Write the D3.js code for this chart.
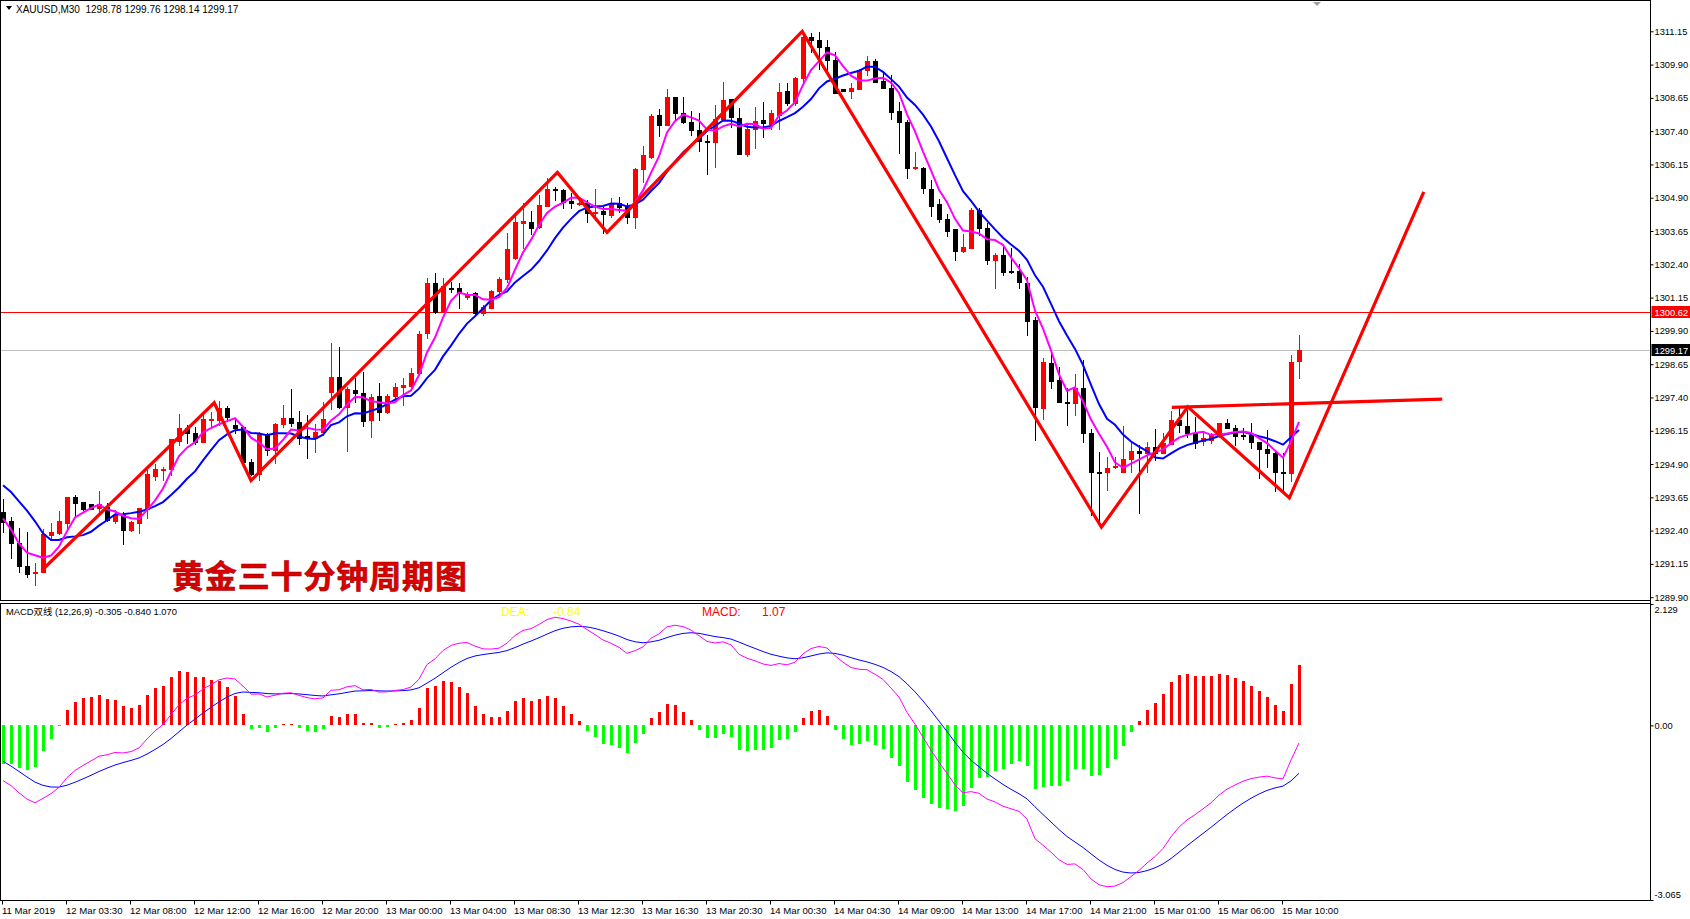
<!DOCTYPE html>
<html><head><meta charset="utf-8">
<script src="https://cdn.jsdelivr.net/npm/d3@7"></script>
<style>
html,body{margin:0;padding:0;background:#fff;overflow:hidden;}
svg{display:block;}
text{font-family:"Liberation Sans",Arial,"Noto Sans CJK SC",sans-serif;}
</style></head><body>
<svg id="c" width="1690" height="919"></svg>
<script>
// ---------- DATA ----------
const opens = [1293.11,1292.76,1291.95,1291.08,1290.81,1290.86,1292.25,1292.30,1292.70,1293.66,
1293.46,1293.39,1293.24,1293.30,1292.77,1292.99,1292.42,1292.70,1293.20,1294.46,
1294.67,1294.71,1295.78,1296.24,1296.08,1295.74,1296.55,1296.55,1296.99,1296.37,
1296.28,1294.98,1294.53,1296.03,1295.43,1296.41,1296.62,1296.47,1295.96,1295.87,
1296.12,1297.62,1298.17,1297.06,1297.68,1297.56,1296.56,1297.46,1296.87,1297.47,
1297.78,1297.83,1298.31,1299.81,1301.69,1300.62,1301.52,1301.50,1301.16,1301.31,
1300.56,1300.77,1301.41,1301.83,1302.62,1303.97,1304.00,1303.81,1304.59,1305.21,
1305.19,1304.78,1304.66,1304.71,1304.31,1304.40,1304.25,1304.69,1304.59,1304.16,
1305.97,1306.44,1308.00,1307.65,1308.67,1308.07,1307.74,1307.46,1307.03,1307.00,
1307.84,1308.59,1307.88,1306.53,1307.50,1307.81,1307.67,1308.00,1308.90,1308.44,
1309.38,1310.92,1310.84,1310.57,1310.07,1309.00,1308.90,1309.00,1309.69,1310.03,
1309.29,1309.03,1308.15,1307.75,1306.00,1306.03,1305.23,1304.66,1304.12,1303.72,
1302.91,1303.02,1304.44,1303.75,1302.58,1302.75,1302.16,1302.16,1301.71,1300.31,
1296.99,1298.70,1298.05,1297.24,1297.18,1297.74,1296.05,1294.61,1294.59,1294.78,
1294.62,1295.08,1295.39,1295.33,1295.53,1295.30,1295.64,1296.55,1296.34,1296.05,
1295.78,1295.80,1295.95,1296.45,1296.24,1295.99,1295.99,1295.72,1295.47,1295.30,
1294.62,1294.58,1298.78];
const highs = [1293.57,1292.92,1292.48,1292.33,1291.17,1292.45,1292.67,1293.14,1293.68,1293.74,
1293.46,1293.39,1293.89,1293.45,1293.17,1293.11,1292.77,1293.26,1294.67,1294.89,
1294.80,1295.84,1296.79,1296.36,1296.28,1296.87,1296.87,1297.27,1297.08,1296.56,
1296.32,1295.08,1296.12,1296.08,1296.43,1297.12,1297.72,1296.89,1296.74,1296.39,
1297.24,1299.44,1299.29,1297.81,1298.12,1298.35,1297.53,1297.93,1297.52,1297.96,
1298.12,1298.52,1299.90,1301.88,1302.06,1301.88,1301.75,1301.71,1301.35,1301.35,
1300.86,1301.42,1301.94,1303.56,1304.25,1304.69,1304.40,1305.00,1305.63,1305.29,
1305.21,1305.06,1304.88,1304.81,1305.23,1304.56,1304.88,1304.94,1304.72,1306.03,
1306.84,1308.03,1308.22,1308.98,1308.70,1308.67,1308.15,1308.09,1307.25,1308.38,
1309.25,1308.62,1308.28,1307.69,1308.29,1308.50,1308.19,1309.19,1309.22,1309.44,
1311.13,1311.07,1311.13,1310.82,1310.38,1309.00,1309.19,1309.72,1310.22,1310.10,
1309.57,1309.51,1308.51,1307.82,1306.63,1306.07,1305.56,1304.84,1304.29,1303.72,
1303.54,1304.50,1304.50,1303.97,1302.84,1303.06,1303.03,1302.41,1301.93,1300.41,
1298.87,1299.05,1298.55,1297.74,1298.30,1298.80,1296.20,1295.37,1295.18,1295.18,
1296.33,1295.74,1295.62,1295.74,1296.20,1296.05,1296.91,1296.99,1296.93,1296.68,
1296.12,1296.05,1296.45,1296.58,1296.36,1296.24,1296.43,1295.74,1296.18,1295.43,
1295.30,1298.99,1299.76];
const lows = [1292.36,1291.36,1290.86,1290.64,1290.36,1290.86,1292.11,1292.27,1292.48,1292.92,
1293.17,1293.20,1293.05,1292.77,1292.70,1291.88,1292.39,1292.30,1292.86,1294.30,
1294.30,1294.49,1295.61,1295.68,1295.65,1295.74,1296.28,1296.36,1296.60,1296.06,
1294.95,1294.49,1294.30,1295.24,1294.93,1296.28,1296.31,1295.65,1295.14,1295.37,
1295.99,1296.96,1297.00,1295.40,1297.24,1296.31,1295.93,1296.56,1296.83,1297.31,
1297.12,1297.81,1298.25,1299.62,1300.56,1300.60,1301.37,1300.75,1301.10,1300.55,
1300.50,1300.75,1301.22,1301.75,1302.60,1303.00,1303.54,1303.77,1304.59,1304.81,
1304.53,1304.53,1304.63,1304.00,1304.06,1303.56,1304.19,1304.38,1303.96,1303.77,
1305.50,1306.38,1307.21,1307.65,1307.81,1307.70,1307.25,1306.66,1305.81,1306.04,
1307.81,1307.56,1306.56,1306.48,1306.78,1307.19,1307.50,1307.50,1308.40,1308.40,
1309.13,1310.38,1309.72,1309.69,1308.84,1308.90,1308.65,1308.98,1309.50,1309.23,
1309.03,1307.84,1306.59,1305.65,1305.97,1305.06,1304.22,1304.00,1303.47,1302.56,
1302.88,1303.02,1303.50,1302.43,1301.50,1302.00,1302.06,1301.52,1299.74,1295.80,
1296.61,1297.74,1297.24,1296.36,1296.74,1295.74,1292.98,1292.74,1293.93,1294.74,
1294.60,1294.62,1293.08,1294.62,1295.05,1295.30,1295.64,1296.12,1295.93,1295.49,
1295.62,1295.70,1295.93,1296.24,1295.62,1295.83,1295.49,1294.36,1294.80,1293.90,
1293.93,1294.26,1298.14];
const closes = [1292.73,1291.95,1291.08,1290.76,1290.86,1292.27,1292.35,1292.76,1293.66,1293.42,
1293.20,1293.20,1293.39,1292.80,1292.99,1292.42,1292.73,1293.26,1294.51,1294.71,
1294.71,1295.83,1296.25,1296.08,1295.74,1296.58,1296.58,1296.99,1296.68,1296.27,
1294.99,1294.53,1296.06,1295.43,1296.41,1296.62,1296.46,1295.89,1295.91,1296.12,
1296.58,1298.17,1297.06,1297.71,1297.56,1296.53,1297.43,1296.87,1297.46,1297.81,
1297.87,1298.31,1299.77,1301.69,1300.62,1301.60,1301.48,1301.31,1301.27,1300.58,
1300.78,1301.40,1301.83,1302.97,1304.00,1304.02,1303.77,1304.63,1305.23,1305.18,
1304.75,1304.69,1304.71,1304.31,1304.38,1304.28,1304.69,1304.56,1304.16,1305.97,
1306.50,1307.97,1307.65,1308.67,1308.07,1307.73,1307.46,1307.04,1307.00,1307.84,
1308.57,1307.92,1306.56,1307.50,1307.79,1307.69,1308.07,1308.88,1308.44,1309.38,
1310.92,1310.84,1310.57,1310.07,1308.84,1308.90,1309.03,1309.69,1310.03,1309.25,
1309.03,1308.13,1307.75,1306.00,1306.04,1305.25,1304.60,1304.12,1303.66,1302.91,
1303.04,1304.44,1303.75,1302.58,1302.75,1302.12,1302.10,1301.75,1300.28,1297.05,
1298.74,1298.03,1297.24,1297.18,1297.74,1296.08,1294.61,1294.57,1294.74,1294.81,
1295.08,1295.39,1295.33,1295.53,1295.33,1295.68,1296.55,1296.37,1296.05,1295.70,
1295.87,1295.99,1296.45,1296.24,1295.97,1295.95,1295.72,1295.48,1295.30,1294.61,
1294.58,1298.75,1299.17];

// moving-average values of the first bars (window not yet full)
const ma5Head  = [1292.86,1292.45,1291.92,1291.57];
const ma10Head = [1294.10,1293.85,1293.50,1293.15,1292.75,1292.30,1292.05,1292.05,1292.15];
// MACD state at the first bar
const ema12Seed = 1293.95, ema26Seed = 1294.92, deaSeed = -0.63;

const priceTicks = [1289.90,1291.15,1292.40,1293.65,1294.90,1296.15,1297.40,1298.65,1299.90,1301.15,
1302.40,1303.65,1304.90,1306.15,1307.40,1308.65,1309.90,1311.15];
const macdTicks = [2.129, 0, -3.065];
const macdTickLabels = ["2.129","0.00","-3.065"];
const timeTickIdx = [0,8,16,24,32,40,48,56,64,72,80,88,96,104,112,120,128,136,144,152,160];
const timeLabels = ["11 Mar 2019","12 Mar 03:30","12 Mar 08:00","12 Mar 12:00","12 Mar 16:00","12 Mar 20:00",
"13 Mar 00:00","13 Mar 04:00","13 Mar 08:30","13 Mar 12:30","13 Mar 16:30","13 Mar 20:30","14 Mar 00:30",
"14 Mar 04:30","14 Mar 09:00","14 Mar 13:00","14 Mar 17:00","14 Mar 21:00","15 Mar 01:00","15 Mar 06:00","15 Mar 10:00"];

// hand-drawn red zigzag (bar index, price)
const zigIdx   = [5, 26.4, 31, 69.3, 75.5, 99.9, 137.3, 148.1, 160.8, 177.6];
const zigPrice = [1290.95, 1297.2, 1294.28, 1305.85, 1303.6, 1311.15, 1292.53, 1297.05, 1293.63, 1305.12];
const neckIdx = [146.1, 179.9];
const neckPrice = [1297.03, 1297.34];
const redLevel = 1300.62, bidLevel = 1299.17;

// ---------- LAYOUT ----------
const svg = d3.select('#c');
const axisX = 1650.5;
const mainTop = 0.5, mainBot = 600.5, macdTop = 603.5, macdBot = 900.5;
const x = d3.scaleLinear().domain([0, 162]).range([3, 1299]);
const y = d3.scaleLinear().domain([1289.90, 1311.15]).range([597.2, 31.3]);
const ym = d3.scaleLinear().domain([-3.065, 2.129]).range([900, 604]);
const axisFont = '"Liberation Sans",Arial,sans-serif';
const axisSize = 9.3;

const defs = svg.append('defs');
defs.append('clipPath').attr('id','cm').append('rect').attr('x',1).attr('y',1).attr('width',1649).attr('height',599);
defs.append('clipPath').attr('id','cd').append('rect').attr('x',1).attr('y',604).attr('width',1649).attr('height',296);

// ---------- indicators ----------
const n = closes.length;
function sma(period, head){
  return d3.range(n).map(i => i < period-1 ? head[i] : d3.mean(closes.slice(i-period+1, i+1)));
}
const ma5 = sma(5, ma5Head), ma10 = sma(10, ma10Head);
const a12 = 2/13, a26 = 2/27, a9 = 2/10;
let e12 = ema12Seed, e26 = ema26Seed, dea = deaSeed;
const difArr = [], deaArr = [];
for (let i=0;i<n;i++){
  if (i>0){ e12 = a12*closes[i] + (1-a12)*e12; e26 = a26*closes[i] + (1-a26)*e26; }
  const d = e12 - e26;
  if (i>0) dea = a9*d + (1-a9)*dea;
  difArr.push(d); deaArr.push(dea);
}
const hist = difArr.map((d,i)=>2*(d-deaArr[i]));

// ---------- main pane ----------
const main = svg.append('g').attr('clip-path','url(#cm)');
main.append('line').attr('x1',0).attr('x2',axisX).attr('y1',Math.round(y(redLevel))+0.5).attr('y2',Math.round(y(redLevel))+0.5)
  .attr('stroke','#ff0000').attr('stroke-width',1);
main.append('line').attr('x1',0).attr('x2',axisX).attr('y1',Math.round(y(bidLevel))+0.5).attr('y2',Math.round(y(bidLevel))+0.5)
  .attr('stroke','#c0c0c0').attr('stroke-width',1);

const cg = main.append('g').attr('shape-rendering','crispEdges');
d3.range(n).forEach(i=>{
  const o=opens[i], h=highs[i], l=lows[i], c=closes[i];
  const col = c >= o ? '#ff0000' : '#000000';
  const cx = Math.round(x(i));
  cg.append('line').attr('x1',cx+0.5).attr('x2',cx+0.5).attr('y1',Math.round(y(h))).attr('y2',Math.round(y(l))+1).attr('stroke',col);
  const yt = Math.round(y(Math.max(o,c))), yb = Math.round(y(Math.min(o,c)));
  cg.append('rect').attr('x',cx-2).attr('width',5).attr('y',yt).attr('height',Math.max(1,yb-yt+1)).attr('fill',col);
});

const lineMain = d3.line().x((d,i)=>x(i)).y(d=>y(d));
main.append('path').attr('d',lineMain(ma10)).attr('fill','none').attr('stroke','#0000ff').attr('stroke-width',2);
main.append('path').attr('d',lineMain(ma5)).attr('fill','none').attr('stroke','#ff00ff').attr('stroke-width',2);

const zigLine = d3.line().x(d=>x(d[0])).y(d=>y(d[1]));
main.append('path').attr('d',zigLine(zigIdx.map((v,i)=>[v,zigPrice[i]]))).attr('fill','none')
  .attr('stroke','#ff0000').attr('stroke-width',3.2).attr('stroke-linejoin','miter');
main.append('path').attr('d',zigLine(neckIdx.map((v,i)=>[v,neckPrice[i]]))).attr('fill','none')
  .attr('stroke','#ff0000').attr('stroke-width',3.2);

// title text
main.append('text').attr('x',172).attr('y',588).attr('font-size',32).attr('font-weight','bold')
  .style('font-family','"Noto Sans CJK SC",sans-serif').attr('fill','#dd0000').attr('stroke','#9a0000').attr('stroke-width',0.6)
  .attr('textLength',295).text('黄金三十分钟周期图');

// header
svg.append('path').attr('d','M6,6 L12,6 L9,10 Z').attr('fill','#000');
svg.append('text').attr('x',16).attr('y',13).attr('font-size',10).attr('fill','#000').style('white-space','pre')
  .text('XAUUSD,M30  1298.78 1299.76 1298.14 1299.17');
svg.append('path').attr('d','M1313,2 L1321,2 L1317,6 Z').attr('fill','#a0a0a0');

// ---------- MACD pane ----------
const md = svg.append('g').attr('clip-path','url(#cd)');
const hg = md.append('g').attr('shape-rendering','crispEdges');
const z0 = Math.round(ym(0));
hist.forEach((v,i)=>{
  const cx = Math.round(x(i));
  const yv = Math.round(ym(v));
  hg.append('rect').attr('x',cx-1).attr('width',3)
    .attr('y',Math.min(yv,z0)).attr('height',Math.max(1,Math.abs(yv-z0)))
    .attr('fill', v>=0 ? '#ff0000' : '#00ff00');
});
const lineM = d3.line().x((d,i)=>x(i)).y(d=>ym(d));
md.append('path').attr('d',lineM(deaArr)).attr('fill','none').attr('stroke','#0000ff').attr('stroke-width',1);
md.append('path').attr('d',lineM(difArr)).attr('fill','none').attr('stroke','#ff00ff').attr('stroke-width',1);

svg.append('text').attr('x',6).attr('y',615).attr('font-size',9.4).attr('fill','#000')
  .style('font-family','"Liberation Sans","Noto Sans CJK SC",sans-serif').text('MACD双线 (12,26,9) -0.305 -0.840 1.070');
svg.append('text').attr('x',501).attr('y',616).attr('font-size',12).attr('fill','#ffff00').text('DEA:');
svg.append('text').attr('x',553).attr('y',616).attr('font-size',12).attr('fill','#ffff00').text('-0.84');
svg.append('text').attr('x',702).attr('y',616).attr('font-size',12).attr('fill','#ff0000').text('MACD:');
svg.append('text').attr('x',762).attr('y',616).attr('font-size',12).attr('fill','#ff0000').text('1.07');

// ---------- frames ----------
const fr = svg.append('g').attr('stroke','#000').attr('shape-rendering','crispEdges').attr('fill','none');
fr.append('rect').attr('x',mainTop).attr('y',mainTop).attr('width',axisX-0.5).attr('height',mainBot-mainTop);
fr.append('rect').attr('x',0.5).attr('y',macdTop).attr('width',axisX-0.5).attr('height',macdBot-macdTop);

// ---------- axes ----------
const ay = svg.append('g').attr('transform',`translate(${axisX},0)`)
  .call(d3.axisRight(y).tickValues(priceTicks).tickFormat(d3.format('.2f')).tickSize(3).tickPadding(1));
ay.select('.domain').remove();
ay.selectAll('text').attr('font-size',axisSize).attr('fill','#000').style('font-family',axisFont);

// price labels on axis
function axisTag(v, bg){
  const yy = Math.round(y(v));
  svg.append('rect').attr('x',axisX+1).attr('y',yy-6).attr('width',39).attr('height',12).attr('fill',bg);
  svg.append('text').attr('x',axisX+4).attr('y',yy+3.5).attr('font-size',axisSize).attr('fill','#fff')
    .style('font-family',axisFont).text(d3.format('.2f')(v));
}
axisTag(redLevel,'#ff0000');
axisTag(bidLevel,'#000000');

const am = svg.append('g').attr('transform',`translate(${axisX},0)`)
  .call(d3.axisRight(ym).tickValues(macdTicks).tickFormat((d,i)=>macdTickLabels[i]).tickSize(3).tickPadding(1));
am.select('.domain').remove();
am.selectAll('text').attr('font-size',axisSize).attr('fill','#000').style('font-family',axisFont);
am.selectAll('.tick').filter(d=>d===2.129).select('text').attr('dy','0.9em');
am.selectAll('.tick').filter(d=>d===-3.065).select('text').attr('dy','-0.3em');

const ax = svg.append('g').attr('transform',`translate(0,${macdBot})`)
  .call(d3.axisBottom(x).tickValues(timeTickIdx).tickFormat((d,i)=>timeLabels[i]).tickSize(4).tickPadding(3));
ax.select('.domain').remove();
ax.selectAll('.tick line').attr('transform','translate(-1,0)');
ax.selectAll('text').attr('font-size',9.6).attr('fill','#000').attr('text-anchor','start').attr('dx',-1.5)
  .style('font-family',axisFont);

// right axis line
svg.append('line').attr('x1',axisX).attr('x2',axisX).attr('y1',0).attr('y2',901).attr('stroke','#000');
</script>
</body></html>
